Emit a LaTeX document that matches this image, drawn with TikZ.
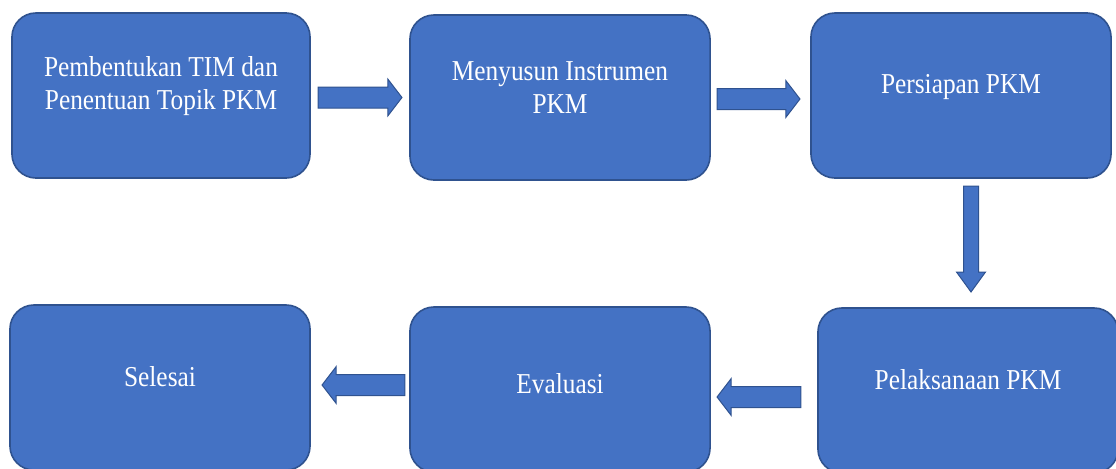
\documentclass[tikz,border=0pt]{standalone}
\usepackage{fontspec}
\setmainfont{Liberation Serif}[FakeStretch=0.88]
\usetikzlibrary{calc,shapes.arrows}
\definecolor{boxfill}{HTML}{4472C4}
\definecolor{boxline}{HTML}{2F528F}
\newcommand \blockarrow[4]
{
\path let \p1=(#3), \p2=(#4), \n1={veclen(\x2-\x1,\y2-\y1)} in
  (#3) -- (#4) node[#1, pos=0, anchor=tail, sloped, allow upside down, minimum height=\n1] (#2) {};
}

\begin{document}
\begin{tikzpicture}[x=0.025cm, y=-0.025cm,
  stepbox/.style={draw=boxline, fill=boxfill, line width=0.04cm, rounded corners=0.6cm,
    minimum width=7.5cm, minimum height=4.125cm, inner sep=0, outer sep=0},
  boxtext/.style={text=white, align=center, inner sep=0,
    font=\fontsize{20.5pt}{23.5pt}\selectfont},
  hflow/.style={single arrow, draw=boxline, fill=boxfill, line width=0.025cm,
    inner xsep=0, inner ysep=0.25cm, text height=0, text depth=0,
    single arrow head extend=0.2cm, single arrow tip angle=105, outer sep=0},
  vflow/.style={hflow, inner ysep=0.175cm, single arrow head extend=0.175cm,
    single arrow tip angle=72}]
\useasboundingbox (0,0) rectangle (1116,468);
\node[stepbox, minimum width=7.45cm] (b1) at (161,95.5) {};
\node[stepbox] (b2) at (560,97.5) {};
\node[stepbox] (b3) at (961,95.5) {};
\node[stepbox] (b4) at (160,387.5) {};
\node[stepbox] (b5) at (560,389.5) {};
\node[stepbox] (b6) at (968,390.5) {};
\node[boxtext] (t1) at ($(b1.north)+(0,73)$) {Pembentukan TIM dan\\Penentuan Topik PKM};
\node[boxtext] (t2) at ($(b2.north)+(0,73)$) {Menyusun Instrumen\\PKM};
\node[boxtext] (t3) at ($(b3.north)+(0,74)$) {Persiapan PKM};
\node[boxtext] (t4) at ($(b4.north)+(0,72)$) {Selesai};
\node[boxtext] (t5) at ($(b5.north)+(0,77)$) {Evaluasi};
\node[boxtext] (t6) at ($(b6.north)+(0,72)$) {Pelaksanaan PKM};
\blockarrow{hflow}{a1}{$(b1.east)+(8,2)$}{$(b2.west)+(-8,0)$}
\blockarrow{hflow}{a2}{$(b2.east)+(7,1.5)$}{$(b3.west)+(-11,3.5)$}
\blockarrow{vflow}{a3}{$(b3.south)+(10,8)$}{$(b6.north)+(3,-16)$}
\blockarrow{hflow}{a4}{$(b6.west)+(-17,6.5)$}{$(b5.east)+(7,7.5)$}
\blockarrow{hflow}{a5}{$(b5.west)+(-5,-4.5)$}{$(b4.east)+(12,-2.5)$}
\end{tikzpicture}
\end{document}
